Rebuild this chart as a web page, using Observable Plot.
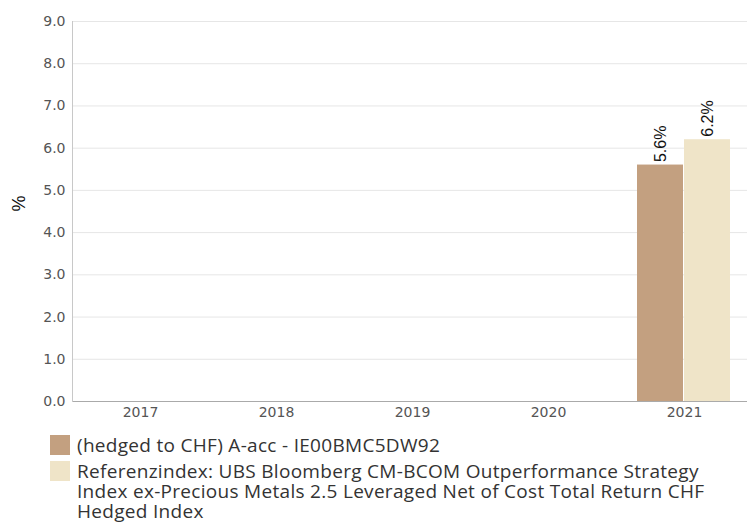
<!DOCTYPE html>
<html>
<head>
<meta charset="utf-8">
<script src="https://cdn.jsdelivr.net/npm/d3@7"></script>
<script src="https://cdn.jsdelivr.net/npm/@observablehq/plot@0.6"></script>
<style>
  body { margin: 0; background: #fff; overflow: hidden; }
  #chart svg { max-width: none !important; display: block; }
  #legend { margin: 10px 0 0 50px; font-family: "Open Sans", "Noto Sans", sans-serif; font-size: 19px; letter-spacing: 0.3px; color: #333; line-height: 20px; }
  .item { display: flex; align-items: flex-start; margin-bottom: 6px; }
  .sw { width: 20px; height: 20px; flex: none; margin-right: 7px; }
  .lbl { width: 645px; margin-top: 0px; }
</style>
</head>
<body>
<div id="chart"></div>
<div id="legend"></div>
<script>
const years = ["2017", "2018", "2019", "2020", "2021"];
const seriesNames = [
  "(hedged to CHF) A-acc - IE00BMC5DW92",
  "Referenzindex: UBS Bloomberg CM-BCOM Outperformance Strategy Index ex-Precious Metals 2.5 Leveraged Net of Cost Total Return CHF Hedged Index"
];
const fundValues = [null, null, null, null, 5.6];
const indexValues = [null, null, null, null, 6.2];
const colors = ["#c3a080", "#efe4c8"];
const yTicks = [0, 1, 2, 3, 4, 5, 6, 7, 8, 9];

const data = [];
years.forEach((y, i) => {
  data.push({year: y, series: seriesNames[0], value: fundValues[i]});
  data.push({year: y, series: seriesNames[1], value: indexValues[i]});
});

const chart = Plot.plot({
  width: 752,
  height: 425,
  marginLeft: 71,
  marginRight: 0,
  marginTop: 21,
  marginBottom: 24,
  style: {fontFamily: "'DejaVu Sans', sans-serif", fontSize: "14px", color: "#555", maxWidth: "none"},
  fx: {domain: years, padding: 0, label: null},
  x: {domain: seriesNames, paddingInner: 0.02, paddingOuter: 0.43, axis: null},
  y: {domain: [0, 9], label: null},
  color: {domain: seriesNames, range: colors},
  marks: [
    Plot.gridY(yTicks, {stroke: "#e6e6e6", strokeOpacity: 1}),
    Plot.axisY(yTicks, {tickSize: 0, tickPadding: 7, tickFormat: d => d.toFixed(1), fontSize: 14, fill: "#555", label: null, facetAnchor: "left"}),
    Plot.axisFx({anchor: "bottom", tickSize: 0, tickPadding: 6, fontSize: 14, fill: "#555", label: null}),
    Plot.barY(data, {fx: "year", x: "series", y: "value", fill: "series"}),
    Plot.text(data, {fx: "year", x: "series", y: "value", text: d => d.value == null ? null : d.value.toFixed(1) + "%", rotate: -90, textAnchor: "start", dy: -3, fontSize: 16, fontFamily: "Arial, 'Liberation Sans', sans-serif", fill: "#111"}),
    Plot.ruleY([0], {stroke: "#aaa"}),
    Plot.frame({anchor: "left", stroke: "#c8c8c8", facetAnchor: "left"}),
    Plot.text(["%"], {frameAnchor: "left", facetAnchor: "left", dx: -53, rotate: -90, fontSize: 18, fontFamily: "Arial, 'Liberation Sans', sans-serif", fill: "#111"})
  ]
});
document.getElementById("chart").appendChild(chart);

const legend = document.getElementById("legend");
seriesNames.forEach((name, i) => {
  const item = document.createElement("div");
  item.className = "item";
  const sw = document.createElement("div");
  sw.className = "sw";
  sw.style.background = colors[i];
  const lbl = document.createElement("div");
  lbl.className = "lbl";
  lbl.textContent = name;
  item.appendChild(sw);
  item.appendChild(lbl);
  legend.appendChild(item);
});
</script>
</body>
</html>
